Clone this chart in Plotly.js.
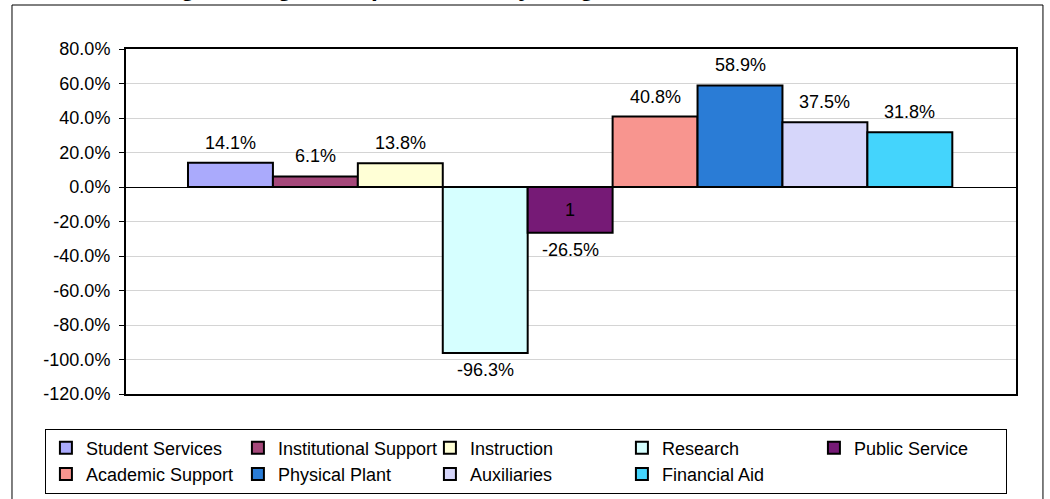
<!DOCTYPE html>
<html>
<head>
<meta charset="utf-8">
<script src="https://cdn.plot.ly/plotly-3.0.1.min.js"></script>
<style>
  html, body { margin: 0; padding: 0; background: #fff; }
  #chart { width: 1050px; height: 499px; }
</style>
</head>
<body>
<div id="chart"></div>
<script>
// ---- data ----
const chartTitle = 'Percentage Change in Expenditures by Program';
const categories = ['Student Services', 'Institutional Support', 'Instruction', 'Research', 'Public Service',
                    'Academic Support', 'Physical Plant', 'Auxiliaries', 'Financial Aid'];
const values = [14.1, 6.1, 13.8, -96.3, -26.5, 40.8, 58.9, 37.5, 31.8];
const colors = ['#aaaafc', '#a5487a', '#ffffd6', '#d6ffff', '#761a76', '#f8958f', '#2a7cd6', '#d6d6fa', '#44d4fc'];
const extraLabelCategory = 'Public Service';
const extraLabelText = '1';
const yTickValues = [-120, -100, -80, -60, -40, -20, 0, 20, 40, 60, 80];
const yTickLabels = yTickValues.map(v => v.toFixed(1) + '%');

// ---- styling ----
const FONT = "Arial, 'Liberation Sans', sans-serif";
const fontSize = 18;

const traces = categories.map((name, i) => ({
  type: 'bar',
  name: name,
  x: [i],
  y: [values[i]],
  width: [1],
  marker: { color: colors[i], line: { color: '#000000', width: 2 } },
  hovertemplate: name + ': %{y:.1f}%<extra></extra>'
}));

const annotations = values.map((v, i) => ({
  x: i, y: v, xref: 'x', yref: 'y',
  text: v.toFixed(1) + '%',
  showarrow: false,
  yanchor: v >= 0 ? 'bottom' : 'top',
  yshift: v >= 0 ? 8 : -5,
  font: { family: FONT, size: fontSize, color: '#000' }
}));

const extraIdx = categories.indexOf(extraLabelCategory);
annotations.push({
  x: extraIdx, y: values[extraIdx] / 2, xref: 'x', yref: 'y',
  text: extraLabelText, showarrow: false,
  font: { family: FONT, size: fontSize, color: '#000' }
});

annotations.push({
  x: -0.0573, y: 1.1333, xref: 'paper', yref: 'paper',
  xanchor: 'left', yanchor: 'bottom',
  text: chartTitle, showarrow: false,
  font: { family: FONT, size: 24.5, color: '#000', weight: 'bold' }
});

const layout = {
  width: 1050, height: 499,
  margin: { l: 126, r: 34, t: 49, b: 105, autoexpand: false },
  paper_bgcolor: '#ffffff',
  plot_bgcolor: '#ffffff',
  font: { family: FONT, size: fontSize, color: '#000' },
  barmode: 'overlay',
  showlegend: true,
  xaxis: {
    range: [-1.23, 9.25],
    showticklabels: false, ticks: '',
    showgrid: false, zeroline: false,
    showline: true, mirror: true, linecolor: '#000', linewidth: 2,
    fixedrange: true
  },
  yaxis: {
    range: [-120, 80],
    tickmode: 'array',
    tickvals: yTickValues,
    ticktext: yTickLabels,
    ticks: 'outside', ticklen: 5, tickcolor: '#000', tickwidth: 1,
    ticklabelstandoff: 5,
    showgrid: true, gridcolor: '#d4d4d4', gridwidth: 1,
    zeroline: true, zerolinecolor: '#000', zerolinewidth: 1,
    showline: true, mirror: true, linecolor: '#000', linewidth: 2,
    tickfont: { family: FONT, size: fontSize, color: '#000' },
    fixedrange: true
  },
  legend: {
    orientation: 'h',
    x: -0.0911, xanchor: 'left',
    y: -0.1, yanchor: 'top',
    entrywidth: 147, entrywidthmode: 'pixels',
    bgcolor: '#ffffff', bordercolor: '#000', borderwidth: 1,
    traceorder: 'normal',
    font: { family: FONT, size: fontSize, color: '#000' }
  },
  annotations: annotations,
  shapes: [{
    type: 'rect', xref: 'paper', yref: 'paper',
    x0: -0.1281, x1: 1.0303, y0: -0.33, y1: 1.1275,
    line: { color: '#000', width: 1 }, fillcolor: 'rgba(0,0,0,0)', layer: 'above'
  }]
};

Plotly.newPlot('chart', traces, layout, { displayModeBar: false, staticPlot: true });
</script>
</body>
</html>
